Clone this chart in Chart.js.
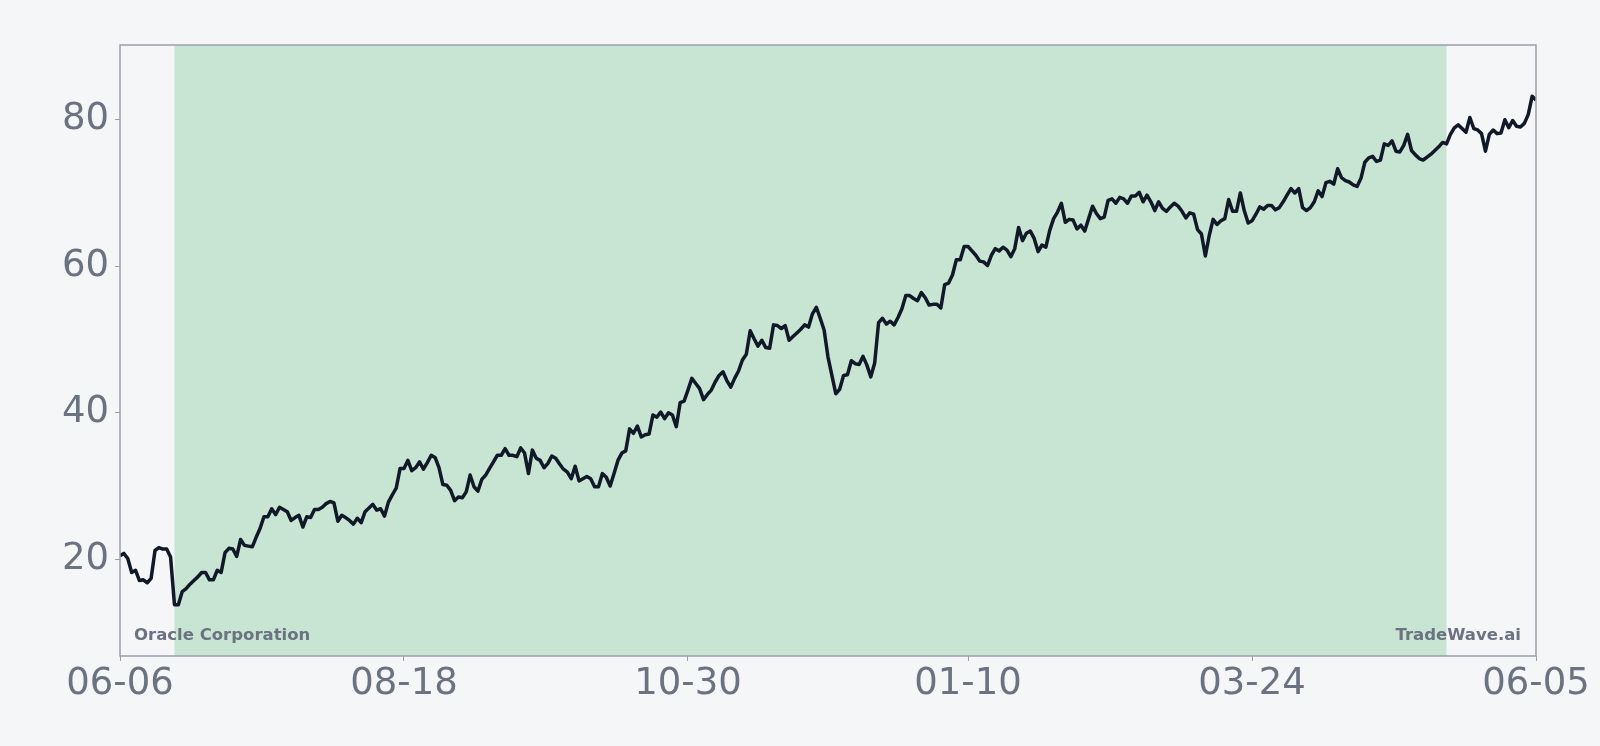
<!DOCTYPE html>
<html>
<head>
<meta charset="utf-8">
<script src="https://cdn.jsdelivr.net/npm/chart.js@4.4.1/dist/chart.umd.min.js"></script>
<style>
  html, body { margin: 0; padding: 0; background: #f5f6f8; }
  canvas { display: block; }
</style>
</head>
<body>
<canvas id="chart" width="1600" height="746"></canvas>
<script>
// x ticks (day offset from 06-06) and their labels
const tickDays = [0, 73, 146, 218, 291, 364];
const tickLabels = ["06-06", "08-18", "10-30", "01-10", "03-24", "06-05"];
const yTicks = [20, 40, 60, 80];

// shaded window, in days from the first point
const shadeFrom = 14;
const shadeTo = 341;

// daily close, one value per day
const closes = [
  20.5, 20.8, 20.1, 18.2, 18.5, 17.1, 17.2, 16.8, 17.4, 21.2,
  21.6, 21.4, 21.4, 20.3, 13.8, 13.8, 15.6, 16.0, 16.6, 17.1,
  17.6, 18.2, 18.2, 17.2, 17.2, 18.5, 18.2, 20.9, 21.5, 21.4,
  20.4, 22.7, 21.9, 21.8, 21.7, 23.0, 24.2, 25.8, 25.8, 26.9,
  26.1, 27.1, 26.8, 26.5, 25.3, 25.7, 26.0, 24.4, 25.8, 25.7,
  26.8, 26.8, 27.1, 27.6, 27.9, 27.7, 25.2, 26.0, 25.7, 25.3,
  24.8, 25.6, 25.0,
  26.5, 27.0, 27.5, 26.7, 26.9, 25.9, 27.8, 28.8,
  29.7, 32.4, 32.4, 33.5, 32.1, 32.5, 33.3, 32.3, 33.2, 34.2,
  33.9, 32.5, 30.2, 30.1, 29.4, 28.0, 28.5, 28.4, 29.2, 31.5,
  29.9, 29.3, 30.9, 31.5, 32.4, 33.3, 34.2, 34.2, 35.1, 34.2,
  34.2, 34.0, 35.2, 34.5, 31.7, 34.9, 33.8, 33.5, 32.5, 33.1,
  34.1, 33.8, 33.0, 32.3, 31.9, 31.0, 32.7, 30.7, 31.0, 31.3,
  31.0, 29.9, 29.9,
  31.7, 31.2, 30.0, 31.7, 33.5, 34.5, 34.8,
  37.8, 37.2, 38.2, 36.7, 37.0, 37.1, 39.7, 39.4, 40.1, 39.2,
  40.0, 39.7, 38.1, 41.4, 41.6, 43.1, 44.7, 44.0, 43.3, 41.8,
  42.5, 43.1, 44.2, 45.1, 45.6, 44.4, 43.5, 44.7, 45.7, 47.2,
  48.0, 51.2, 50.1, 49.1, 49.9, 48.9, 48.8, 52.0, 51.9, 51.5,
  51.9, 49.9, 50.4, 50.9, 51.4, 52.0, 51.7, 53.5, 54.4, 52.9,
  51.3, 47.6, 45.1, 42.6,
  43.2, 45.1, 45.2, 47.1, 46.7, 46.6,
  47.7, 46.5, 44.9, 46.8, 52.3, 52.9, 52.1, 52.5, 52.0, 53.0,
  54.2, 56.0, 56.0, 55.6, 55.3, 56.4, 55.7, 54.7, 54.8, 54.8,
  54.3, 57.5, 57.7, 58.8, 60.9, 60.9, 62.7, 62.7, 62.1, 61.5,
  60.7, 60.6, 60.1, 61.5, 62.4, 62.1, 62.6, 62.2, 61.3, 62.4,
  65.3, 63.5, 64.5, 64.8, 63.8, 62.0, 62.9, 62.6, 64.9, 66.5,
  67.4, 68.6, 66.0, 66.4, 66.3, 65.1, 65.6,
  64.8, 66.5, 68.2,
  67.2, 66.5, 66.7, 69.0, 69.2, 68.6, 69.4, 69.2, 68.6, 69.6,
  69.6, 70.1, 68.8, 69.7, 68.8, 67.6, 68.8, 67.9, 67.5, 68.1,
  68.6, 68.2, 67.5, 66.6, 67.3, 67.1, 65.0, 64.4, 61.4, 64.2,
  66.4, 65.7, 66.2, 66.5, 69.1, 67.5, 67.5, 70.0, 67.6, 65.9,
  66.2, 67.1, 68.1, 67.8, 68.3, 68.3, 67.7, 68.0, 68.8, 69.7,
  70.6, 70.0, 70.6, 68.0, 67.6, 68.0, 68.8, 70.3,
  69.5, 71.4,
  71.6, 71.2, 73.3, 72.1, 71.7, 71.5, 71.1, 70.9, 72.0, 74.2,
  74.8, 75.0, 74.3, 74.5, 76.7, 76.5, 77.1, 75.7, 75.6, 76.5,
  78.0, 75.8, 75.2, 74.7, 74.5, 74.9, 75.3, 75.8, 76.3, 76.9,
  76.7, 78.0, 78.9, 79.3, 78.8, 78.3, 80.3, 78.8, 78.6, 78.1,
  75.7, 78.0, 78.6, 78.1, 78.2, 80.0, 78.9, 79.9, 79.1, 79.0,
  79.5, 80.7, 83.2, 82.7
];

const gray = "#6b7280";
const frameColor = "#9a9eab";
const fontFamily = "'DejaVu Sans', sans-serif";

// green band behind the line, plot frame and the two captions
const decorPlugin = {
  id: "decor",
  beforeDatasetsDraw(chart) {
    const { ctx, chartArea } = chart;
    const x = chart.scales.x;
    const x0 = x.getPixelForValue(shadeFrom);
    const x1 = x.getPixelForValue(shadeTo);
    ctx.save();
    ctx.fillStyle = "#c8e5d4";
    ctx.fillRect(x0, chartArea.top, x1 - x0, chartArea.bottom - chartArea.top);
    ctx.restore();
  },
  afterDatasetsDraw(chart) {
    const { ctx, chartArea } = chart;
    ctx.save();
    ctx.font = "bold 16.5px " + fontFamily;
    ctx.fillStyle = gray;
    ctx.textBaseline = "alphabetic";
    ctx.textAlign = "left";
    ctx.fillText("Oracle Corporation", chartArea.left + 14, chartArea.bottom - 16);
    ctx.textAlign = "right";
    ctx.fillText("TradeWave.ai", chartArea.right - 15, chartArea.bottom - 16);
    ctx.strokeStyle = frameColor;
    ctx.lineWidth = 1.5;
    ctx.strokeRect(chartArea.left, chartArea.top, chartArea.right - chartArea.left, chartArea.bottom - chartArea.top);
    ctx.restore();
  }
};

new Chart(document.getElementById("chart"), {
  type: "line",
  data: {
    datasets: [{
      data: closes.map((v, i) => ({ x: i, y: v })),
      borderColor: "#111827",
      borderWidth: 3.5,
      borderJoinStyle: "round",
      pointRadius: 0,
      tension: 0,
      fill: false
    }]
  },
  options: {
    responsive: false,
    devicePixelRatio: 1,
    animation: false,
    layout: { padding: { left: 0, right: 64, top: 45, bottom: 0 } },
    plugins: { legend: { display: false }, tooltip: { enabled: false } },
    scales: {
      x: {
        type: "linear",
        min: 0,
        max: 364,
        afterBuildTicks: (scale) => { scale.ticks = tickDays.map(v => ({ value: v })); },
        afterFit: (scale) => { scale.height = 90; },
        ticks: {
          autoSkip: false,
          maxRotation: 0,
          padding: 1,
          color: gray,
          font: { family: fontFamily, size: 37 },
          callback: (value) => tickLabels[tickDays.indexOf(value)]
        },
        grid: { drawOnChartArea: false, drawTicks: true, tickLength: 5, tickColor: frameColor },
        border: { display: false }
      },
      y: {
        min: 6.8,
        max: 90.2,
        afterBuildTicks: (scale) => { scale.ticks = yTicks.map(v => ({ value: v })); },
        afterFit: (scale) => { scale.width = 120; },
        ticks: {
          padding: 6,
          color: gray,
          font: { family: fontFamily, size: 37 }
        },
        grid: { drawOnChartArea: false, drawTicks: true, tickLength: 5, tickColor: frameColor },
        border: { display: false }
      }
    }
  },
  plugins: [decorPlugin]
});
</script>
</body>
</html>
